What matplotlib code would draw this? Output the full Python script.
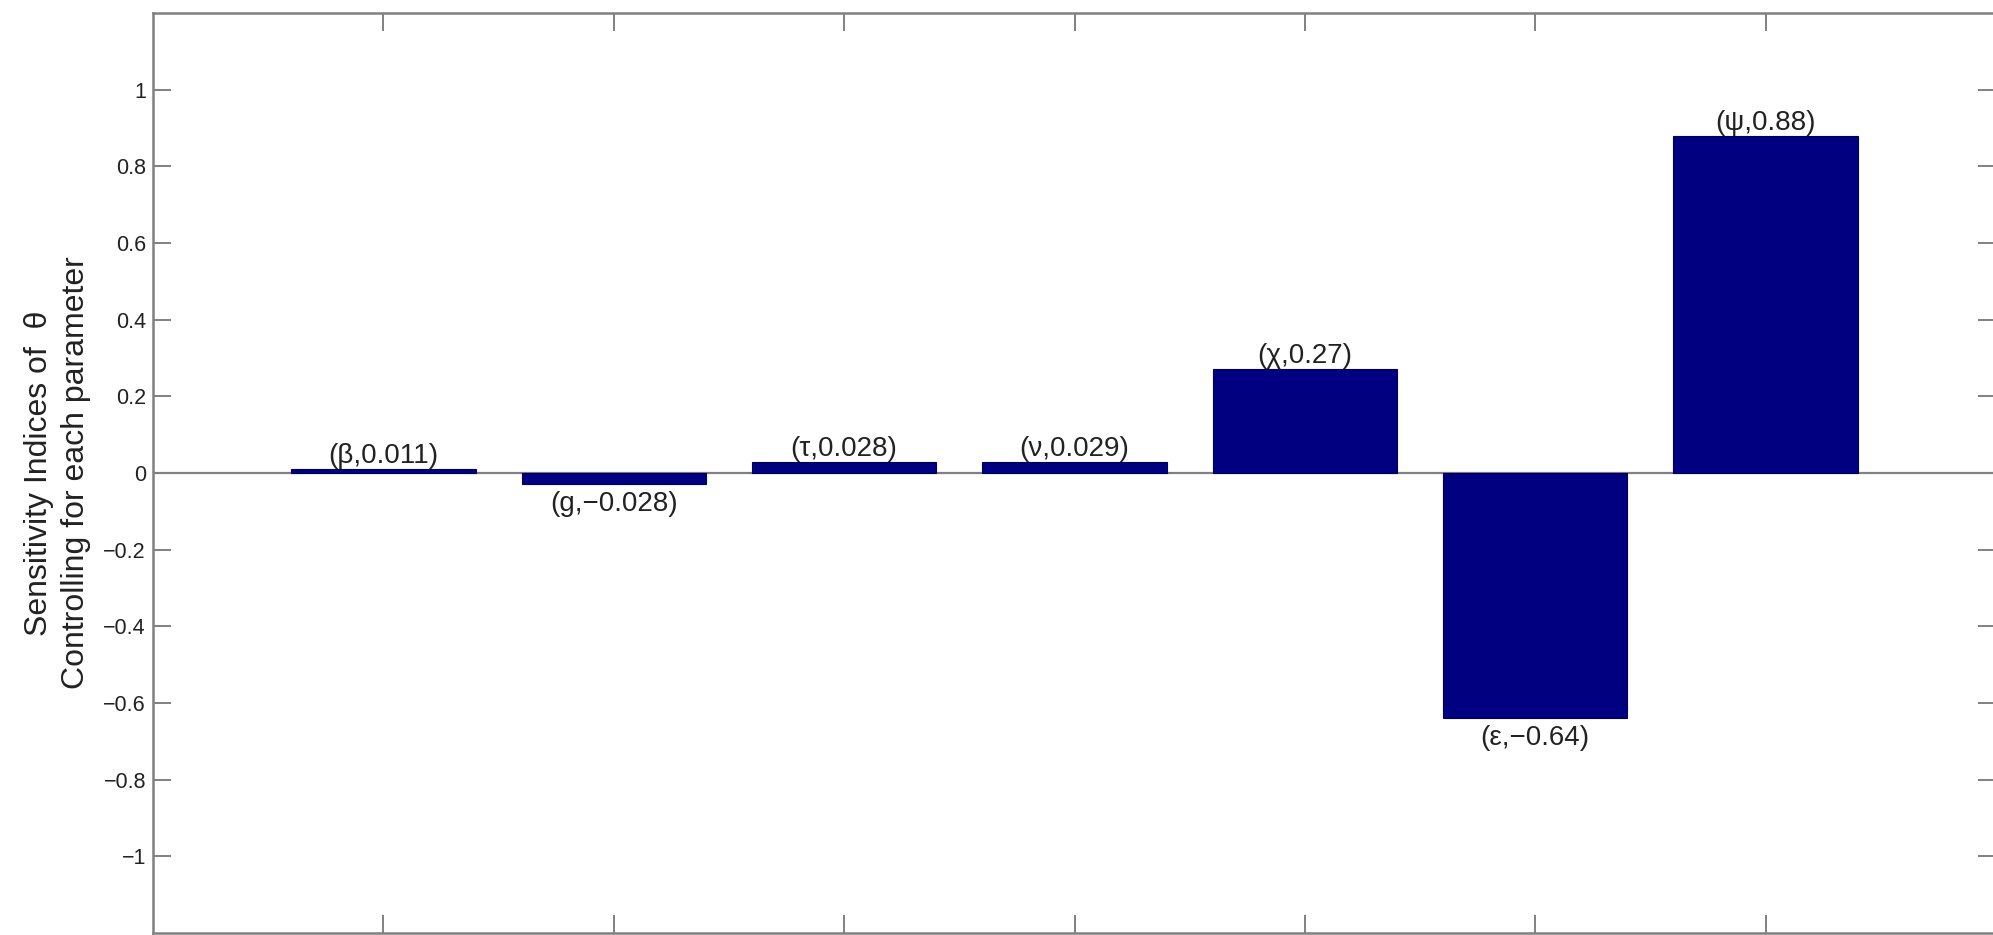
import matplotlib
matplotlib.use("Agg")
import matplotlib.pyplot as plt

# data
params = ["β", "g", "τ", "ν", "χ", "ε", "ψ"]
values = [0.011, -0.028, 0.028, 0.029, 0.27, -0.64, 0.88]
yticks = [-1, -0.8, -0.6, -0.4, -0.2, 0, 0.2, 0.4, 0.6, 0.8, 1]

plt.rcParams["font.family"] = ["Liberation Sans", "DejaVu Sans"]
plt.rcParams["axes.unicode_minus"] = True

grey = "#808080"
txt = "#222222"

fig = plt.figure(figsize=(19.93, 9.35), dpi=100)
ax = fig.add_axes([153 / 1993, 2 / 935, (1996 - 153) / 1993, (933 - 13) / 935])

x = list(range(1, len(values) + 1))
ax.bar(x, values, width=0.8, color="#000080", edgecolor="#00005a", linewidth=0.8, zorder=3)

# zero line
ax.axhline(0, color=grey, linewidth=1.6, zorder=2)

# value labels
for xi, p, v in zip(x, params, values):
    lab = "({},{})".format(p, format(v, ".2g").replace("-", "\u2212"))
    if v >= 0:
        ax.annotate(lab, (xi, v), xytext=(0, 0), textcoords="offset points",
                    ha="center", va="bottom", fontsize=20, color=txt)
    else:
        ax.annotate(lab, (xi, v), xytext=(0, -5), textcoords="offset points",
                    ha="center", va="top", fontsize=20, color=txt)

ax.set_xlim(0, 8)
ax.set_ylim(-1.2, 1.2)
ax.set_xticks(x)
ax.set_xticklabels([])
ax.set_yticks(yticks)
ax.set_yticklabels(["{:g}".format(t).replace("-", "\u2212") for t in yticks])

for s in ax.spines.values():
    s.set_color(grey)
    s.set_linewidth(1.8)

ax.tick_params(axis="both", direction="in", length=13, width=1.4, color=grey,
               top=True, right=True, labelsize=15.5, labelcolor=txt, pad=5)

ax.set_ylabel("Sensitivity Indices of  θ\nControlling for each parameter",
              fontsize=23, color=txt, labelpad=9, linespacing=1.3)

fig.savefig("out.png", dpi=100)
